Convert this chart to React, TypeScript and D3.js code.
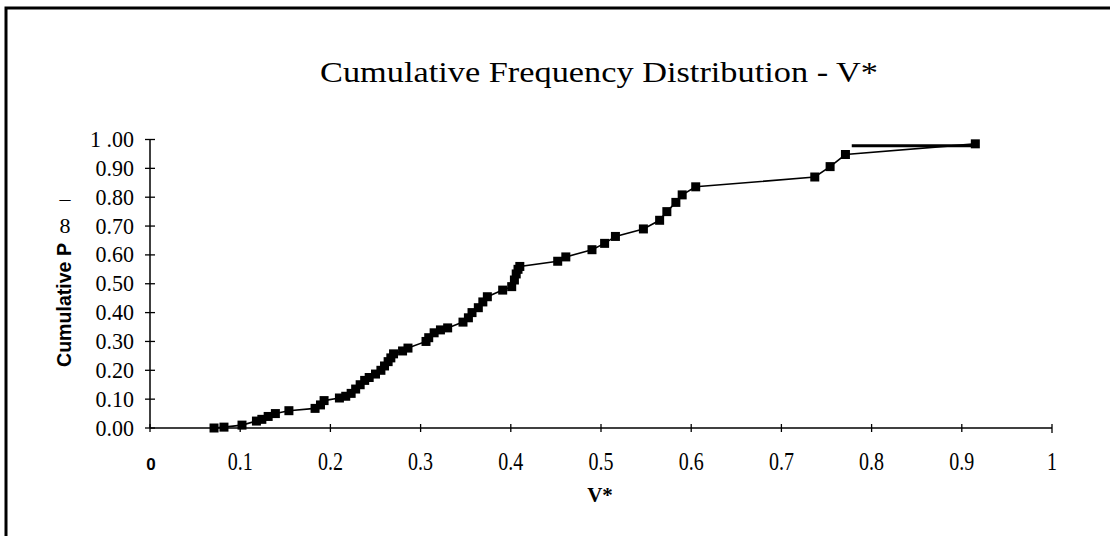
import * as d3 from "d3";

const vValues = [
  0.071, 0.082, 0.102, 0.118, 0.124, 0.131, 0.139, 0.154, 0.183, 0.189, 0.193,
  0.21, 0.217, 0.223, 0.228, 0.233, 0.238, 0.243, 0.25, 0.256, 0.26, 0.264,
  0.267, 0.27, 0.28, 0.286, 0.306, 0.309, 0.315, 0.322, 0.33, 0.347, 0.353,
  0.357, 0.364, 0.369, 0.374, 0.391, 0.401, 0.404, 0.406, 0.408, 0.41, 0.452,
  0.461, 0.49, 0.504, 0.516, 0.547, 0.565, 0.573, 0.583, 0.59, 0.605, 0.737,
  0.754, 0.771, 0.915,
];
const pValues = [
  0, 0.003, 0.01, 0.024, 0.03, 0.04, 0.05, 0.06, 0.068, 0.08, 0.095, 0.104,
  0.11, 0.12, 0.135, 0.15, 0.165, 0.175, 0.187, 0.2, 0.215, 0.23, 0.243, 0.257,
  0.267, 0.277, 0.3, 0.313, 0.33, 0.34, 0.347, 0.367, 0.382, 0.4, 0.417, 0.437,
  0.455, 0.478, 0.49, 0.513, 0.534, 0.55, 0.56, 0.578, 0.593, 0.618, 0.64,
  0.664, 0.69, 0.72, 0.75, 0.782, 0.808, 0.836, 0.87, 0.906, 0.948, 0.985,
];
// short flat segment drawn near the top
const capV = [0.778, 0.916];
const capP = [0.978, 0.978];

const xTicks = [0, 0.1, 0.2, 0.3, 0.4, 0.5, 0.6, 0.7, 0.8, 0.9, 1];
const xTickLabels = ["0", "0.1", "0.2", "0.3", "0.4", "0.5", "0.6", "0.7", "0.8", "0.9", "1"];
const yTicks = [0, 0.1, 0.2, 0.3, 0.4, 0.5, 0.6, 0.7, 0.8, 0.9, 1];
const yTickLabels = ["0.00", "0.10", "0.20", "0.30", "0.40", "0.50", "0.60", "0.70", "0.80", "0.90", "1 .00"];

const serif = "Liberation Serif, Times New Roman, Times, serif";

const App = () => {
  const x = d3.scaleLinear().domain([0, 1]).range([150, 1052]);
  const y = d3.scaleLinear().domain([0, 1]).range([428, 139.5]);

  const pts = vValues.map((v, i) => [v, pValues[i]] as [number, number]);
  const line = d3
    .line<[number, number]>()
    .x((d) => x(d[0]))
    .y((d) => y(d[1]));
  const capPts = capV.map((v, i) => [v, capP[i]] as [number, number]);

  const sq = 9;

  return (
    <svg
      width={1110}
      height={536}
      style={{ position: "absolute", left: 0, top: 0, background: "#fff" }}
    >
      {/* frame */}
      <path d="M6,536 L6,8 L1110,8" fill="none" stroke="#000" strokeWidth={3} />

      <g transform="translate(599,82) scale(1,1.12)">
        <text x={0} y={0} textAnchor="middle" fontFamily={serif} fontSize={27} textLength={558} lengthAdjust="spacingAndGlyphs">
          Cumulative  Frequency Distribution  - V*
        </text>
      </g>

      {/* y axis */}
      <line x1={x(0)} x2={x(0)} y1={y(1)} y2={y(0)} stroke="#000" strokeWidth={1.5} />
      {yTicks.map((t, i) => (
        <g key={"y" + t}>
          <line x1={x(0) - 5} x2={x(0) + 5} y1={y(t)} y2={y(t)} stroke="#000" strokeWidth={1.3} />
          <g transform={`translate(134,${y(t) + 7.5}) scale(1,1.08)`}>
            <text x={0} y={0} textAnchor="end" fontFamily={serif} fontSize={22}>
              {yTickLabels[i]}
            </text>
          </g>
        </g>
      ))}

      {/* x axis */}
      <line x1={x(0)} x2={x(1)} y1={y(0)} y2={y(0)} stroke="#000" strokeWidth={1.5} />
      {xTicks.map((t, i) => (
        <g key={"x" + t}>
          <line x1={x(t)} x2={x(t)} y1={y(0) - 4} y2={y(0) + (t === 1 ? 5 : 4)} stroke="#000" strokeWidth={1.3} />
          {i === 0 ? (
            <text x={x(t) + 1} y={470} textAnchor="middle" fontFamily="Liberation Sans, Arial, sans-serif" fontWeight="bold" fontSize={17}>
              {xTickLabels[i]}
            </text>
          ) : (
            <g transform={`translate(${x(t)},470) scale(1,1.22)`}>
              <text x={0} y={0} textAnchor="middle" fontFamily={serif} fontSize={20}>
                {xTickLabels[i]}
              </text>
            </g>
          )}
        </g>
      ))}

      <text x={600} y={502} textAnchor="middle" fontFamily={serif} fontWeight="bold" fontSize={21}>
        V*
      </text>

      {/* y axis title */}
      <text
        transform="translate(71,305) rotate(-90)"
        textAnchor="middle"
        fontFamily="Liberation Sans Narrow, Liberation Sans, Arial, sans-serif"
        fontWeight="bold"
        fontSize={21}
        textLength={124}
        lengthAdjust="spacingAndGlyphs"
      >
        Cumulative P
      </text>
      <text x={65} y={233} textAnchor="middle" fontFamily={serif} fontSize={22}>
        8
      </text>
      <text x={65} y={206} textAnchor="middle" fontFamily={serif} fontSize={22}>
        –
      </text>

      {/* series */}
      <path d={line(capPts) || ""} fill="none" stroke="#000" strokeWidth={3} />
      <path d={line(pts) || ""} fill="none" stroke="#000" strokeWidth={1.6} />
      {pts.map((d, i) => (
        <rect
          key={i}
          x={x(d[0]) - sq / 2}
          y={y(d[1]) - sq / 2}
          width={sq}
          height={sq}
          fill="#000"
        />
      ))}
    </svg>
  );
};

export default App;
